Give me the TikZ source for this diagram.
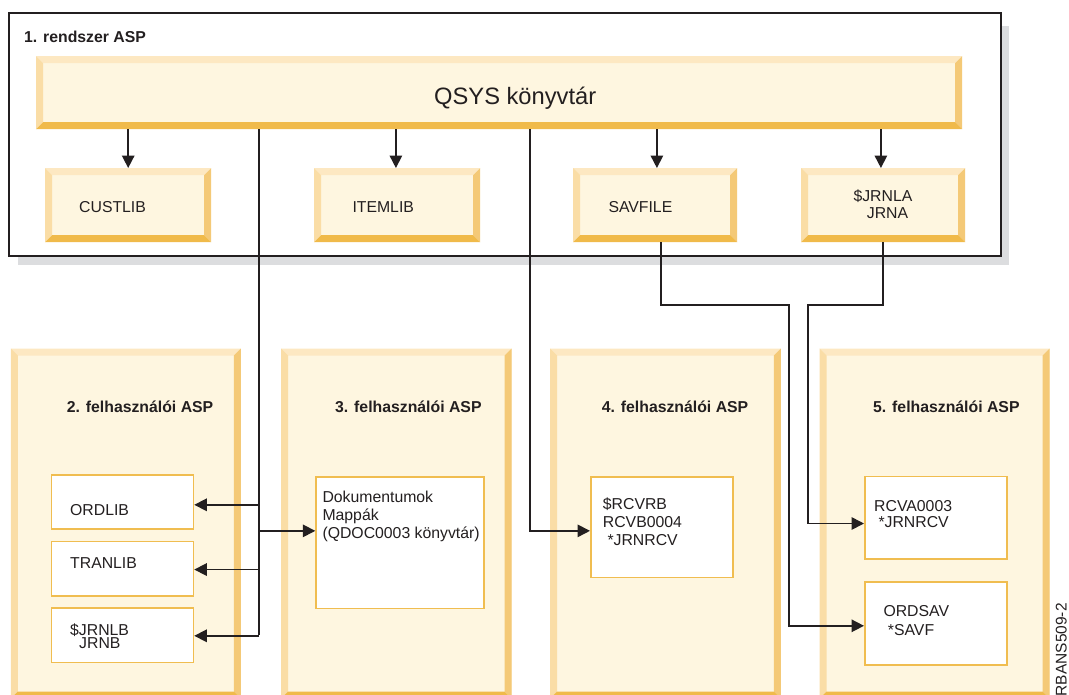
\documentclass[tikz,border=0pt]{standalone}
\usepackage{fontspec}
\setmainfont{Liberation Sans}
\usetikzlibrary{arrows.meta}

\definecolor{bevfill}{HTML}{FEF6E0}
\definecolor{bevtop}{HTML}{FDE8C2}
\definecolor{bevleft}{HTML}{FADDA6}
\definecolor{bevright}{HTML}{F4C977}
\definecolor{bevbottom}{HTML}{F0BA4A}
\definecolor{frameline}{HTML}{F0BD50}
\definecolor{ink}{HTML}{231F20}
\definecolor{shadowgray}{HTML}{DCDDDF}

\def\ppb{path picture bounding box}
\def\bw{7pt}

\tikzset{
  bevelbox/.style={rectangle, inner sep=0pt, fill=bevfill, anchor=north west,
    path picture={
      \fill[bevtop] (\ppb.north west) -- (\ppb.north east)
        -- ([shift={(-\bw,-\bw)}]\ppb.north east) -- ([shift={(\bw,-\bw)}]\ppb.north west) -- cycle;
      \fill[bevleft] (\ppb.north west) -- ([shift={(\bw,-\bw)}]\ppb.north west)
        -- ([shift={(\bw,\bw)}]\ppb.south west) -- (\ppb.south west) -- cycle;
      \fill[bevright] (\ppb.north east) -- (\ppb.south east)
        -- ([shift={(-\bw,\bw)}]\ppb.south east) -- ([shift={(-\bw,-\bw)}]\ppb.north east) -- cycle;
      \fill[bevbottom] (\ppb.south west) -- (\ppb.south east)
        -- ([shift={(-\bw,\bw)}]\ppb.south east) -- ([shift={(\bw,\bw)}]\ppb.south west) -- cycle;
    }},
  libbox/.style={rectangle, inner sep=0pt, anchor=north west, fill=white,
    draw=frameline, line width=1.6pt},
  sysframe/.style={rectangle, inner sep=0pt, anchor=north west, fill=white,
    draw=ink, line width=1.6pt},
  txt/.style={anchor=base west, inner sep=0pt, text=ink,
    font=\fontsize{15.8}{18}\selectfont},
  hdr/.style={txt, font=\fontsize{15.8}{18}\selectfont\bfseries},
  wire/.style={draw=ink, line width=1.6pt},
  arr/.style={wire, -{Triangle[length=12.5pt,width=12.5pt]}},
}

\begin{document}
\begin{tikzpicture}[x=1pt,y=-1pt]
\useasboundingbox (0,0) rectangle (1069,694);
\clip (0,0) rectangle (1069,694);

% system ASP frame with its drop shadow
\fill[shadowgray] (18.3,26) rectangle (1009,265);
\node[sysframe, minimum width=991.7pt, minimum height=242.7pt] (sys) at (8.3,12.3) {};
\node[hdr] (systitle) at (24,42.3) {1. rendszer ASP};

% QSYS library and the libraries of the system ASP
\node[bevelbox, minimum width=926pt, minimum height=73pt] (qsys) at (36,56) {};
\node[txt, font=\fontsize{23.7}{26}\selectfont] (qsyst) at (434,104) {QSYS könyvtár};

\node[bevelbox, minimum width=166pt, minimum height=74pt] (custlib) at (45,168) {};
\node[txt] (custlibt) at (79,212.7) {CUSTLIB};
\node[bevelbox, minimum width=166pt, minimum height=74pt] (itemlib) at (314,168) {};
\node[txt] (itemlibt) at (352.3,212.7) {ITEMLIB};
\node[bevelbox, minimum width=164pt, minimum height=74pt] (savfile) at (573,168) {};
\node[txt] (savfilet) at (608.3,212.7) {SAVFILE};
\node[bevelbox, minimum width=164pt, minimum height=74pt] (jrnla) at (801,168) {};
\node[txt] (jrnlat1) at (853.3,201) {\$JRNLA};
\node[txt] (jrnlat2) at (866.7,218.3) {JRNA};

% user ASP panels
\node[bevelbox, minimum width=230pt, minimum height=350pt] (asp2) at (10.7,348.3) {};
\node[bevelbox, minimum width=230.3pt, minimum height=350pt] (asp3) at (281,348.3) {};
\node[bevelbox, minimum width=230.7pt, minimum height=350pt] (asp4) at (550,348.3) {};
\node[bevelbox, minimum width=230pt, minimum height=350pt] (asp5) at (819.3,348.3) {};
\node[hdr] (asp2t) at (66.7,412.7) {2. felhasználói ASP};
\node[hdr] (asp3t) at (335,412.7) {3. felhasználói ASP};
\node[hdr] (asp4t) at (601.7,412.7) {4. felhasználói ASP};
\node[hdr] (asp5t) at (873,412.7) {5. felhasználói ASP};

% objects inside the user ASPs
\node[libbox, minimum width=142pt, minimum height=54pt] (ordlib) at (50.7,474) {};
\node[txt] (ordlibt) at (70,515) {ORDLIB};
\node[libbox, minimum width=142pt, minimum height=54.3pt] (tranlib) at (50.7,540.7) {};
\node[txt] (tranlibt) at (70,568.3) {TRANLIB};
\node[libbox, minimum width=142pt, minimum height=54.4pt] (jrnlb) at (50.7,607.3) {};
\node[txt] (jrnlbt1) at (70,635.5) {\$JRNLB};
\node[txt] (jrnlbt2) at (79,648.5) {JRNB};

\node[libbox, minimum width=168pt, minimum height=131.7pt] (docs) at (315.3,476) {};
\node[txt] (docst1) at (322.3,502.5) {Dokumentumok};
\node[txt] (docst2) at (322.3,520.3) {Mappák};
\node[txt] (docst3) at (322.3,538) {(QDOC0003 könyvtár)};

\node[libbox, minimum width=142.3pt, minimum height=100.7pt] (rcvrb) at (590,476) {};
\node[txt] (rcvrbt1) at (602.7,509.3) {\$RCVRB};
\node[txt] (rcvrbt2) at (602.7,527.3) {RCVB0004};
\node[txt] (rcvrbt3) at (607.3,545) {*JRNRCV};

\node[libbox, minimum width=142pt, minimum height=82.6pt] (rcva) at (864,475.7) {};
\node[txt] (rcvat1) at (874,511.7) {RCVA0003};
\node[txt] (rcvat2) at (878.3,527.7) {*JRNRCV};

\node[libbox, minimum width=142pt, minimum height=83pt] (ordsav) at (864,581) {};
\node[txt] (ordsavt1) at (883.3,616.7) {ORDSAV};
\node[txt] (ordsavt2) at (887.7,635) {*SAVF};

\node[txt, rotate=90, anchor=base east, font=\fontsize{15.5}{18}\selectfont] (figid) at (1066.7,603) {RBANS509-2};

% connectors
\draw[arr] (custlib.north |- qsys.south) -- (custlib.north);
\draw[arr] ([xshift=-1.3pt]itemlib.north |- qsys.south) -- ([xshift=-1.3pt]itemlib.north);
\draw[arr] ([xshift=1.7pt]savfile.north |- qsys.south) -- ([xshift=1.7pt]savfile.north);
\draw[arr] ([xshift=-2.3pt]jrnla.north |- qsys.south) -- ([xshift=-2.3pt]jrnla.north);

\coordinate (busL) at (259,635);
\coordinate (ordin) at ([yshift=-3pt]ordlib.east);
\coordinate (tranin) at ([yshift=-0.9pt]tranlib.east);
\coordinate (jrnlbin) at ([yshift=-0.5pt]jrnlb.east);
\coordinate (docin) at ([yshift=11.8pt]docs.west);
\draw[wire] (qsys.south -| busL) -- (busL);
\draw[arr] (busL |- ordin) -- (ordin);
\draw[arr] (busL |- tranin) -- (tranin);
\draw[arr] (busL |- jrnlbin) -- (jrnlbin);
\draw[arr] (busL |- docin) -- (docin);

\coordinate (busM) at (530,530);
\coordinate (rcvin) at ([yshift=-3.7pt]rcvrb.west);
\draw[arr] (qsys.south -| busM) |- (rcvin);

\coordinate (bendS) at (789,305);
\coordinate (bendJ) at (808,305);
\coordinate (savin) at ([yshift=-2.5pt]ordsav.west);
\coordinate (rcvain) at ([yshift=-5.7pt]rcva.west);
\draw[arr] ([xshift=5.7pt]savfile.south) |- (bendS) |- (savin);
\draw[arr] (jrnla.south) |- (bendJ) |- (rcvain);
\end{tikzpicture}
\end{document}
